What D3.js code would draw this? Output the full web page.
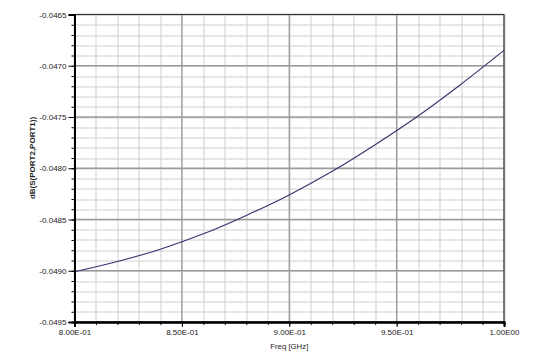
<!DOCTYPE HTML>
<html lang="en">
    <head>
        <meta charset="utf-8" />
        <title>dB(S(PORT2,PORT1))</title>
        <style>
            body { margin: 0; background: #fff; }
            text { font-family: "Liberation Sans", Arial, sans-serif; fill: #222; }
        </style>
    </head>
    <body>
        <script src="https://d3js.org/d3.v7.min.js"></script>
        <script>
            const freq = [0.80, 0.82, 0.84, 0.86, 0.88, 0.90, 0.92, 0.94, 0.96, 0.98, 1.00];
            const dbS21 = [-0.04901, -0.04891, -0.04879, -0.04864, -0.04846, -0.04826,
                           -0.04803, -0.04777, -0.04749, -0.04718, -0.04685];
            const xTicks = [0.80, 0.85, 0.90, 0.95, 1.00];
            const xTickLabels = ["8.00E-01", "8.50E-01", "9.00E-01", "9.50E-01", "1.00E00"];
            const yTicks = [-0.0495, -0.0490, -0.0485, -0.0480, -0.0475, -0.0470, -0.0465];
            const yTickLabels = ["-0.0495", "-0.0490", "-0.0485", "-0.0480", "-0.0475", "-0.0470", "-0.0465"];

            const W = 546, H = 358;
            const margin = { top: 14.5, right: 42, bottom: 36, left: 74.5 };
            const width = W - margin.left - margin.right;
            const height = H - margin.top - margin.bottom;

            const x = d3.scaleLinear().domain([0.8, 1.0]).range([0, width]);
            const y = d3.scaleLinear().domain([-0.0495, -0.0465]).range([height, 0]);

            const xMinor = d3.range(0, 21).map(i => 0.8 + i * 0.01);
            const yMinor = d3.range(0, 31).map(i => -0.0495 + i * 0.0001);

            const svg = d3.select("body").append("svg")
                .attr("width", W)
                .attr("height", H);

            const g = svg.append("g")
                .attr("transform", `translate(${margin.left}, ${margin.top})`);

            // minor grid
            g.append("g").selectAll("line").data(xMinor).join("line")
                .attr("x1", d => Math.round(x(d)) + 0.5).attr("x2", d => Math.round(x(d)) + 0.5)
                .attr("y1", 0).attr("y2", height)
                .attr("stroke", "#cfcfcf").attr("stroke-width", 1);
            g.append("g").selectAll("line").data(yMinor).join("line")
                .attr("y1", d => Math.round(y(d)) + 0.5).attr("y2", d => Math.round(y(d)) + 0.5)
                .attr("x1", 0).attr("x2", width)
                .attr("stroke", "#cfcfcf").attr("stroke-width", 1);

            // major grid
            g.append("g").selectAll("line").data(xTicks).join("line")
                .attr("x1", d => x(d)).attr("x2", d => x(d))
                .attr("y1", 0).attr("y2", height)
                .attr("stroke", "#9a9a9a").attr("stroke-width", 1.3);
            g.append("g").selectAll("line").data(yTicks).join("line")
                .attr("y1", d => y(d)).attr("y2", d => y(d))
                .attr("x1", 0).attr("x2", width)
                .attr("stroke", "#9a9a9a").attr("stroke-width", 1.3);

            // frame
            g.append("rect")
                .attr("width", width).attr("height", height)
                .attr("fill", "none").attr("stroke", "#333").attr("stroke-width", 1);

            // curve
            const line = d3.line()
                .x((d, i) => x(freq[i]))
                .y(d => y(d))
                .curve(d3.curveMonotoneX);
            g.append("path")
                .datum(dbS21)
                .attr("d", line)
                .attr("fill", "none")
                .attr("stroke", "#33336e")
                .attr("stroke-width", 1.1);

            // axes
            const xAxisMinor = d3.axisBottom(x).tickValues(xMinor).tickSize(3).tickFormat("");
            const xAxis = d3.axisBottom(x).tickValues(xTicks).tickSize(5).tickPadding(2)
                .tickFormat((d, i) => xTickLabels[i]);
            const yAxisMinor = d3.axisLeft(y).tickValues(yMinor).tickSize(3).tickFormat("");
            const yAxis = d3.axisLeft(y).tickValues(yTicks).tickSize(6).tickPadding(2)
                .tickFormat((d, i) => yTickLabels[i]);

            [xAxisMinor, xAxis].forEach(a => {
                g.append("g").attr("transform", `translate(0, ${height})`).call(a)
                    .call(s => s.select(".domain").attr("stroke", "#000").attr("stroke-width", 2));
            });
            [yAxisMinor, yAxis].forEach(a => {
                g.append("g").call(a)
                    .call(s => s.select(".domain").attr("stroke", "#000").attr("stroke-width", 2));
            });
            g.selectAll(".tick line").attr("stroke", "#000");
            g.selectAll(".tick text")
                .attr("font-family", "'Liberation Sans', Arial, sans-serif")
                .attr("font-size", 8)
                .attr("fill", "#222");

            // titles
            svg.append("text")
                .attr("x", margin.left + x(0.9))
                .attr("y", 349)
                .attr("text-anchor", "middle")
                .attr("font-size", 7.8)
                .text("Freq [GHz]");

            svg.append("text")
                .attr("transform", "translate(35, 158) rotate(-90)")
                .attr("text-anchor", "middle")
                .attr("font-size", 8)
                .attr("font-weight", "bold")
                .text("dB(S(PORT2,PORT1))");
        </script>
    </body>
</html>
